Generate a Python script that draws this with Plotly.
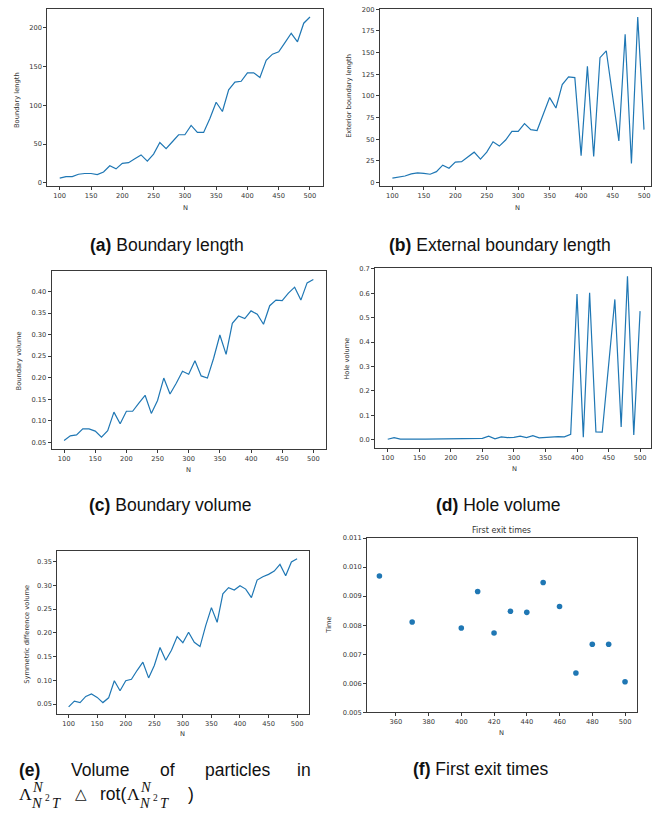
import plotly.graph_objects as go

W, H = 652, 816

N = list(range(100, 510, 10))

boundary_length = [6, 8, 8, 11, 12, 12, 10.5, 14, 22, 18, 25, 26, 31, 36, 28, 37, 52, 44, 53, 62,
                   62, 74, 65, 65, 83, 104, 92, 120, 130, 131, 142, 142, 136, 158, 166, 169, 181,
                   193, 182, 206, 214]

exterior_boundary_length = [5, 6.5, 7.5, 10, 11, 10.5, 9.5, 12.5, 20, 16.5, 23.5, 24, 29, 35, 27,
                            35, 47, 42, 49, 59, 59, 68, 61, 60, 79, 98, 86, 113, 122, 121, 31, 134,
                            30, 144, 152, 100, 48, 171, 22, 191, 61]

boundary_volume = [0.054, 0.065, 0.067, 0.081, 0.081, 0.076, 0.062, 0.077, 0.120, 0.093, 0.122,
                   0.122, 0.141, 0.159, 0.117, 0.147, 0.199, 0.162, 0.187, 0.215, 0.208, 0.239,
                   0.204, 0.199, 0.245, 0.299, 0.254, 0.326, 0.343, 0.337, 0.355, 0.347, 0.324,
                   0.367, 0.380, 0.379, 0.396, 0.410, 0.380, 0.420, 0.428]

hole_volume = [0.002, 0.009, 0.003, 0.004, 0.002, 0.003, 0.003, 0.003, 0.006, 0.003, 0.003, 0.005,
               0.005, 0.005, 0.004, 0.006, 0.015, 0.004, 0.012, 0.009, 0.010, 0.015, 0.009, 0.017,
               0.008, 0.010, 0.010, 0.013, 0.012, 0.022, 0.597, 0.010, 0.602, 0.032, 0.031, 0.300,
               0.575, 0.052, 0.670, 0.020, 0.527]

sym_diff_volume = [0.044, 0.056, 0.053, 0.066, 0.071, 0.064, 0.053, 0.063, 0.099, 0.078, 0.099,
                   0.102, 0.121, 0.138, 0.105, 0.131, 0.169, 0.142, 0.163, 0.192, 0.179, 0.201,
                   0.180, 0.171, 0.215, 0.253, 0.222, 0.282, 0.295, 0.290, 0.299, 0.292, 0.274,
                   0.311, 0.318, 0.323, 0.330, 0.344, 0.320, 0.349, 0.356]

exit_N = [350, 370, 400, 410, 420, 430, 440, 450, 460, 470, 480, 490, 500]
exit_time = [0.00969, 0.00811, 0.00790, 0.00916, 0.00773, 0.00848, 0.00844, 0.00947, 0.00864,
             0.00635, 0.00734, 0.00734, 0.00605]

BLUE = "#1f77b4"
SPINE = "#3a3a3a"
TXT = "#333333"
CAPCOL = "#111111"
TICKFONT = dict(family="DejaVu Sans", size=6.7, color=TXT)


def px_x(p):
    return p / W


def px_y(p):
    return 1 - p / H


fig = go.Figure()

panels = [
    dict(x=N, y=boundary_length, mode="lines", xd=(47.3, 323), yd=(5, 184),
         xr=(80, 520), yr=(-4.4, 224.4), xdt=50, ydt=50, yfmt="", y0=0),
    dict(x=N, y=exterior_boundary_length, mode="lines", xd=(380.4, 652), yd=(5, 184),
         xr=(80, 511.1), yr=(-4.3, 200.3), xdt=50, ydt=25, yfmt="", y0=0),
    dict(x=N, y=boundary_volume, mode="lines", xd=(51.7, 326.3), yd=(270, 449),
         xr=(80, 520), yr=(0.0353, 0.4467), xdt=50, ydt=0.05, yfmt=".2f", y0=0.05),
    dict(x=N, y=hole_volume, mode="lines", xd=(375.7, 652), yd=(266.7, 448.3),
         xr=(80, 517.3), yr=(-0.0334, 0.7034), xdt=50, ydt=0.1, yfmt=".1f", y0=0),
    dict(x=N, y=sym_diff_volume, mode="lines", xd=(57.3, 309), yd=(552.7, 717.3),
         xr=(80, 520), yr=(0.0284, 0.3716), xdt=50, ydt=0.05, yfmt=".2f", y0=0.05),
    dict(x=exit_N, y=exit_time, mode="markers", xd=(367.7, 638.3), yd=(539.3, 715.3),
         xr=(342.5, 507.5), yr=(0.005, 0.011), xdt=20, ydt=0.001, yfmt=".3f", y0=0.005),
]

for i, p in enumerate(panels, start=1):
    sfx = "" if i == 1 else str(i)
    if p["mode"] == "lines":
        fig.add_trace(go.Scatter(x=p["x"], y=p["y"], mode="lines",
                                 line=dict(color=BLUE, width=1.2),
                                 xaxis="x" + sfx, yaxis="y" + sfx, showlegend=False,
                                 hoverinfo="skip"))
    else:
        fig.add_trace(go.Scatter(x=p["x"], y=p["y"], mode="markers",
                                 marker=dict(color=BLUE, size=5.6, line=dict(width=0)),
                                 xaxis="x" + sfx, yaxis="y" + sfx, showlegend=False,
                                 hoverinfo="skip"))
    common = dict(showline=True, linecolor=SPINE, linewidth=0.9, mirror=True,
                  ticks="outside", ticklen=3, tickwidth=0.8, tickcolor=SPINE,
                  showgrid=False, zeroline=False, tickfont=TICKFONT, fixedrange=True)
    fig.layout["xaxis" + sfx] = dict(
        domain=[px_x(p["xd"][0]), px_x(p["xd"][1])], range=list(p["xr"]),
        anchor="y" + sfx, tick0=0, dtick=p["xdt"], **common)
    fig.layout["yaxis" + sfx] = dict(
        domain=[px_y(p["yd"][1]), px_y(p["yd"][0])], range=list(p["yr"]),
        anchor="x" + sfx, tick0=p["y0"], dtick=p["ydt"], tickformat=p["yfmt"], **common)

ann = []


def add_text(text, x, y, size=6.7, family="DejaVu Sans", color=TXT, xanchor="center",
             yanchor="middle", angle=0):
    ann.append(dict(text=text, x=px_x(x), y=px_y(y), xref="paper", yref="paper",
                    showarrow=False, xanchor=xanchor, yanchor=yanchor, textangle=angle,
                    font=dict(size=size, family=family, color=color)))


# axis titles
y_titles = [("Boundary length", 16.5, 96.5), ("Exterior boundary length", 349.3, 93),
            ("Boundary volume", 19, 360), ("Hole volume", 347.7, 358),
            ("Symmetric difference volume", 27.3, 636.7), ("Time", 330, 627.3)]
for t, x, y in y_titles:
    add_text(t, x, y, angle=-90)

x_titles = [(185.3, 206), (518.3, 205.7), (188.7, 470.7), (515, 470), (182.7, 737), (502.7, 736.7)]
for x, y in x_titles:
    add_text("N", x, y)

add_text("First exit times", 502.7, 531.7, size=8)

# captions
CAP = dict(size=17.5, family="Liberation Sans", color=CAPCOL)
add_text("<b>(a)</b> Boundary length", 167, 243, **CAP)
add_text("<b>(b)</b> External boundary length", 501, 243, **CAP)
add_text("<b>(c)</b> Boundary volume", 170.4, 506, **CAP)
add_text("<b>(d)</b> Hole volume", 499.6, 506, **CAP)
add_text("<b>(f)</b> First exit times", 481, 772.7, **CAP)

# (e) justified first line
add_text("<b>(e)</b>", 17, 774, xanchor="left", **CAP)
add_text("Volume", 68.9, 774, xanchor="left", **CAP)
add_text("of", 158.7, 774, xanchor="left", **CAP)
add_text("particles", 203.8, 774, xanchor="left", **CAP)
add_text("in", 313, 774, xanchor="right", **CAP)

# (e) second line (math)
SERIF = "Liberation Serif"
MS = 14.5   # script size
MSS = 9.5   # script-script size


def lam_group(x0):
    add_text("Λ", x0, 797.5, size=17.5, family=SERIF, color=CAPCOL, xanchor="left")
    add_text("<i>N</i>", x0 + 13, 790.5, size=MS, family=SERIF, color=CAPCOL, xanchor="left")
    add_text("<i>N</i>", x0 + 12, 807, size=MS, family=SERIF, color=CAPCOL, xanchor="left")
    add_text("2", x0 + 25.5, 802, size=MSS, family=SERIF, color=CAPCOL, xanchor="left")
    add_text("<i>T</i>", x0 + 33, 807, size=MS, family=SERIF, color=CAPCOL, xanchor="left")


lam_group(17.5)
add_text("△", 73, 797.5, size=15, family="DejaVu Sans", color=CAPCOL, xanchor="left")
add_text("rot(", 98.5, 797.5, xanchor="left", **CAP)
lam_group(125.5)
add_text(")", 186, 797.5, xanchor="left", **CAP)

fig.update_layout(width=W, height=H, margin=dict(l=0, r=0, t=0, b=0),
                  paper_bgcolor="white", plot_bgcolor="white", annotations=ann,
                  showlegend=False)

fig.write_html("out.html", config={"displayModeBar": False})
